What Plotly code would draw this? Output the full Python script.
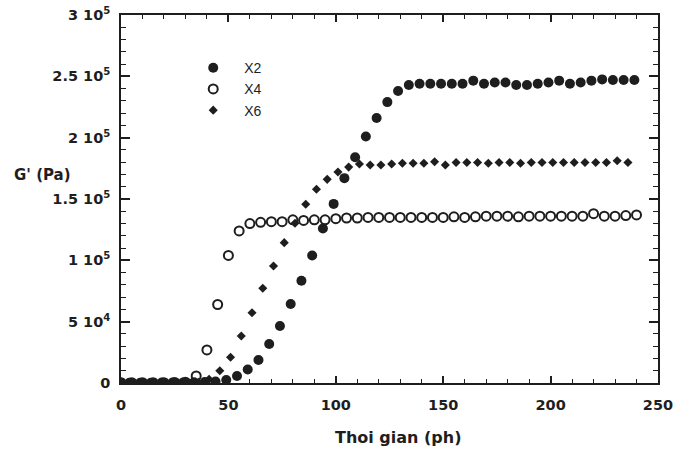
import plotly.graph_objects as go

# ---- data ----
t_x2 = [0, 4, 9, 14, 19, 24, 29, 34, 39, 44,
        49, 54, 59, 64, 69, 74, 79, 84, 89, 94, 99, 104, 109, 114, 119, 124, 129,
        134, 139, 144, 149, 154, 159, 164, 169, 174, 179, 184, 189, 194, 199,
        204, 209, 214, 219, 224, 229, 234, 239]
g_x2 = [300, 300, 300, 300, 400, 400, 500, 600, 800, 1200,
        2400, 5700, 11000, 18700, 31800, 46500, 64400, 83400, 104000, 126000,
        146000, 167000, 184000, 201000, 216000, 229000, 238000,
        243000, 244000, 244000, 244000, 244000, 244000, 246500, 244000, 245000,
        245000, 243000, 243000, 244000, 245000, 246500, 244000, 245000, 246500,
        247500, 247000, 247000, 247000]

t_x4 = [0, 5, 10, 15, 20, 25, 30, 35, 40, 45, 50, 55, 60, 65, 70, 75, 80, 85, 90,
        95, 100, 105, 110, 115, 120, 125, 130, 135, 140, 145, 150, 155, 160, 165,
        170, 175, 180, 185, 190, 195, 200, 205, 210, 215, 220, 225, 230, 235, 240]
g_x4 = [300, 300, 300, 300, 300, 400, 600,
        5700, 27000, 64000, 104000, 124000, 130000, 131000, 131500, 131500,
        133000, 132500, 133000, 133000,
        134000, 134500, 134500, 135000, 135000, 135000, 135000, 135000, 135000,
        135000, 135000, 135500, 135000, 135500, 136000, 136000, 136000, 135500,
        136000, 136000, 136000, 136000, 136000, 136000, 138000, 136000, 136000,
        136500, 137000]

t_x6 = [1, 6, 11, 16, 21, 26, 31, 36,
        41, 46, 51, 56, 61, 66, 71, 76, 81, 86, 91, 96, 101, 106, 111,
        116, 121, 126, 131, 136, 141, 146, 151, 156, 161, 166, 171, 176, 181,
        186, 191, 196, 201, 206, 211, 216, 221, 226, 231, 236]
g_x6 = [300, 300, 300, 300, 300, 300, 400, 500,
        3000, 10000, 21000, 38300, 57300, 77200, 95400, 114400, 130200, 145700,
        157900, 166000, 172000, 176000, 178500,
        177700, 177700, 178500, 179100, 179100, 179100, 180400, 177700, 179800,
        179800, 179800, 179100, 179800, 179800, 179100, 179800, 179800, 179800,
        179800, 179800, 179800, 179800, 179800, 181200, 179800]

series_names = ["X2", "X4", "X6"]

y_tick_vals = [0, 50000, 100000, 150000, 200000, 250000, 300000]
y_tick_text = ["0", "5 10<sup>4</sup>", "1 10<sup>5</sup>", "1.5 10<sup>5</sup>",
               "2 10<sup>5</sup>", "2.5 10<sup>5</sup>", "3 10<sup>5</sup>"]
x_tick_vals = [0, 50, 100, 150, 200, 250]

x_title = "Thoi gian (ph)"
y_title = "G' (Pa)"

# ---- figure ----
ink = "#1e1e1e"
FONT = "DejaVu Sans, Liberation Sans, Arial, sans-serif"
LEG_FONT = "Liberation Sans, Arial, sans-serif"

fig = go.Figure()
fig.add_trace(go.Scatter(
    x=t_x2, y=g_x2, mode="markers", name=series_names[0],
    marker=dict(symbol="circle", size=10, color=ink, line=dict(width=0))))
fig.add_trace(go.Scatter(
    x=t_x4, y=g_x4, mode="markers", name=series_names[1],
    marker=dict(symbol="circle-open", size=9, color=ink, line=dict(width=2, color=ink))))
fig.add_trace(go.Scatter(
    x=t_x6, y=g_x6, mode="markers", name=series_names[2],
    marker=dict(symbol="diamond", size=7, color=ink, line=dict(width=0))))

fig.update_layout(
    width=686, height=451,
    margin=dict(l=121, r=28, t=15, b=68, autoexpand=False),
    paper_bgcolor="white", plot_bgcolor="white",
    font=dict(family=FONT, color=ink, size=14),
    showlegend=True,
    legend=dict(x=0.114, y=0.899, xanchor="left", yanchor="top",
                bgcolor="rgba(0,0,0,0)", borderwidth=0, itemwidth=52,
                font=dict(family=LEG_FONT, size=14, color=ink), tracegroupgap=0),
    xaxis=dict(
        range=[0, 250], tickmode="array", tickvals=x_tick_vals,
        ticktext=["<b>%d</b>" % v for v in x_tick_vals],
        ticks="inside", ticklen=7, tickwidth=1.5, tickcolor=ink,
        minor=dict(ticks="inside", ticklen=4, tickwidth=1.2, tickcolor=ink,
                   tickmode="linear", tick0=0, dtick=10),
        showline=True, linecolor=ink, linewidth=1.6, mirror="allticks",
        showgrid=False, zeroline=False, ticklabelstandoff=8, automargin=False,
        tickfont=dict(family=FONT, size=14.5, color=ink)),
    yaxis=dict(
        range=[0, 300000], tickmode="array", tickvals=y_tick_vals,
        ticktext=["<b>%s</b>" % s for s in y_tick_text],
        ticks="inside", ticklen=9, tickwidth=1.5, tickcolor=ink,
        minor=dict(ticks="inside", ticklen=5, tickwidth=1.2, tickcolor=ink,
                   tickmode="linear", tick0=0, dtick=10000),
        showline=True, linecolor=ink, linewidth=1.6, mirror="allticks",
        showgrid=False, zeroline=False, ticklabelstandoff=6, automargin=False,
        tickfont=dict(family=FONT, size=14.5, color=ink)),
    annotations=[
        dict(text="<b>%s</b>" % x_title, xref="paper", yref="paper",
             x=0.516, y=-0.147, xanchor="center", yanchor="middle",
             showarrow=False, font=dict(family=FONT, size=16, color=ink)),
        dict(text="<b>%s</b>" % y_title, xref="paper", yref="paper",
             x=-0.147, y=0.565, xanchor="center", yanchor="middle",
             showarrow=False, font=dict(family=FONT, size=15, color=ink)),
    ],
)

fig.write_html("out.html")
